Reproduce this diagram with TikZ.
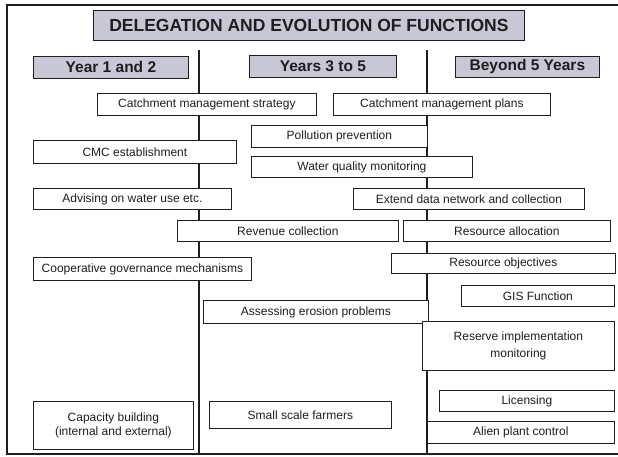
\documentclass[tikz,border=0pt]{standalone}
\usepackage{fontspec}
\setmainfont{Liberation Sans}
\definecolor{hdrgray}{RGB}{200,199,214}
\definecolor{inkgray}{RGB}{30,30,30}

\begin{document}
\begin{tikzpicture}[
        x=1pt,
        y=-1pt,
        every node/.style={text=inkgray},
        func/.style={draw=inkgray, line width=0.8pt, fill=white, anchor=north west,
            inner sep=0pt, align=center, font=\fontsize{12}{15}\selectfont},
        hdr/.style={draw=inkgray, line width=0.8pt, fill=hdrgray, anchor=north west,
            inner sep=0pt, font=\fontsize{15.5}{18}\selectfont\bfseries},
        divider/.style={draw=inkgray, line width=1.3pt},
        frame/.style={draw=inkgray, line width=1.6pt}
    ]
    \useasboundingbox (0,0) rectangle (618,457);

    % frame and column dividers
    \coordinate (frameTR) at (618,5);
    \coordinate (frameTL) at (7,5);
    \coordinate (frameBL) at (7,454);
    \coordinate (frameBR) at (618,454);
    \draw[frame] (frameTR) -- (frameTL) -- (frameBL) -- (frameBR);
    \coordinate (divAtop) at (199,50);
    \coordinate (divAbot) at (199,454);
    \coordinate (divBtop) at (427,50);
    \coordinate (divBbot) at (427,454);
    \draw[divider] (divAtop) -- (divAbot);
    \draw[divider] (divBtop) -- (divBbot);

    % title and column headers
    \node[hdr, minimum width=431pt, minimum height=30pt,
        font=\fontsize{17.5}{20}\selectfont\bfseries] (title) at (93,10)
        {DELEGATION AND EVOLUTION OF FUNCTIONS};
    \node[hdr, minimum width=155pt, minimum height=22pt] (yearA) at (33,56) {Year 1 and 2};
    \node[hdr, minimum width=147pt, minimum height=22pt] (yearB) at (249,55) {Years 3 to 5};
    \node[hdr, minimum width=144pt, minimum height=21pt] (yearC) at (455,56) {Beyond 5 Years};

    % functions
    \node[func, minimum width=219pt, minimum height=22pt] (strategy) at (97,93) {Catchment management strategy};
    \node[func, minimum width=217pt, minimum height=22pt] (plans) at (333,93) {Catchment management plans};
    \node[func, minimum width=176pt, minimum height=22pt] (pollution) at (251,125) {Pollution prevention};
    \node[func, minimum width=203pt, minimum height=23pt] (cmc) at (33,140) {CMC establishment};
    \node[func, minimum width=221pt, minimum height=21pt] (quality) at (251,156) {Water quality monitoring};
    \node[func, minimum width=198pt, minimum height=21pt] (advising) at (33,188) {Advising on water use etc.};
    \node[func, minimum width=231pt, minimum height=21pt] (datanet) at (353,188) {Extend data network and collection};
    \node[func, minimum width=221pt, minimum height=21pt] (revenue) at (177,220) {Revenue collection};
    \node[func, minimum width=207pt, minimum height=21pt] (allocation) at (403,220) {Resource allocation};
    \node[func, minimum width=224pt, minimum height=20pt] (objectives) at (391,253) {Resource objectives};
    \node[func, minimum width=218pt, minimum height=23pt] (coop) at (33,257) {Cooperative governance mechanisms};
    \node[func, minimum width=153pt, minimum height=21pt] (gis) at (461,285) {GIS Function};
    \node[func, minimum width=225pt, minimum height=23pt] (erosion) at (203,300) {Assessing erosion problems};
    \node[func, minimum width=192pt, minimum height=49pt, font=\fontsize{12}{17}\selectfont] (reserve) at (422,321)
        {Reserve implementation\\monitoring};
    \node[func, minimum width=175pt, minimum height=21pt] (licensing) at (439,390) {Licensing};
    \node[func, minimum width=182pt, minimum height=27pt] (farmers) at (209,401) {Small scale farmers};
    \node[func, minimum width=160pt, minimum height=48pt, font=\fontsize{12}{14}\selectfont] (capacity) at (33,401)
        {Capacity building\\(internal and external)};
    \node[func, minimum width=187pt, minimum height=22pt] (alien) at (427,421) {Alien plant control};
\end{tikzpicture}
\end{document}
